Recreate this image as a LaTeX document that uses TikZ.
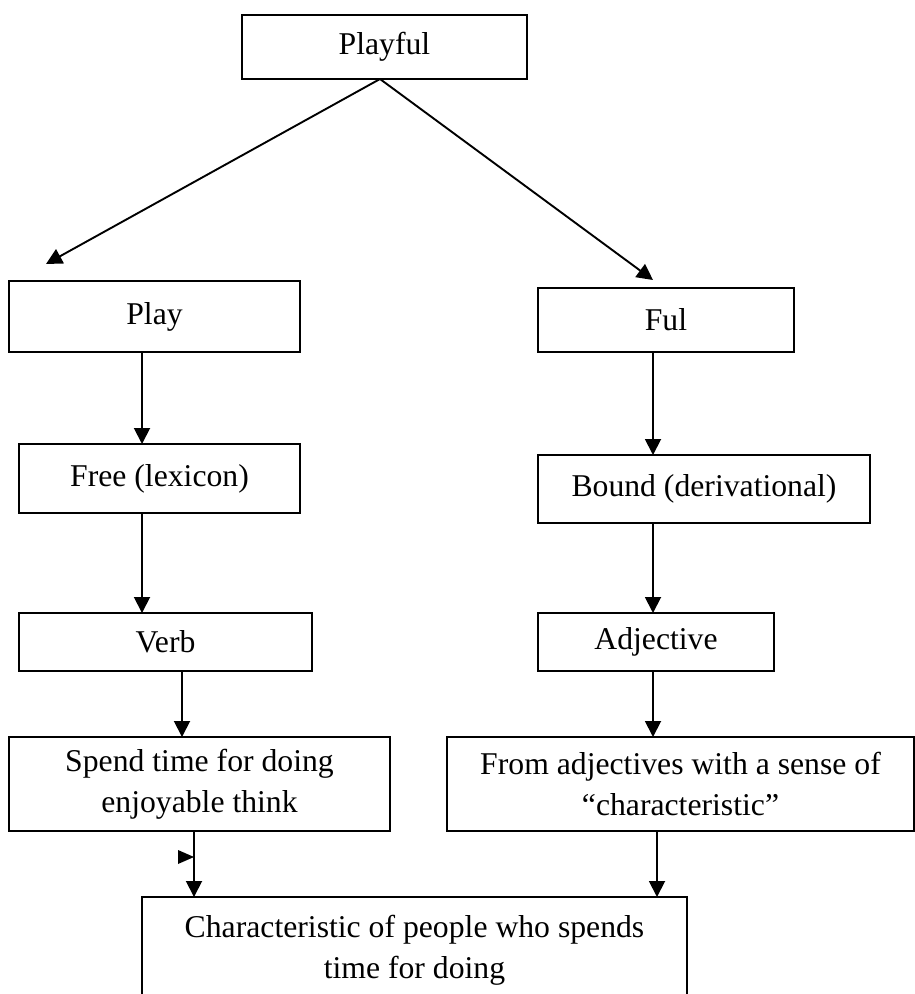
\documentclass[tikz,border=0pt]{standalone}
\usepackage{fontspec}
\setmainfont{Liberation Serif}
\usetikzlibrary{arrows.meta}
\begin{document}
\begin{tikzpicture}[x=1pt,y=-1pt,
  box/.style={draw=black, line width=1.9pt, inner sep=0pt, outer sep=0pt,
    align=center, font=\fontsize{31.7}{41}\selectfont},
  arr/.style={line width=1.9pt, -{Triangle[length=16pt,width=16pt]}}]
\useasboundingbox (0,0) rectangle (915,994);
% boxes
\node[box, minimum width=285pt, minimum height=64pt] (playful) at (384.5,47) {Playful};
\node[box, minimum width=291pt, minimum height=71pt] (play) at (154.5,316.5) {Play};
\node[box, minimum width=256pt, minimum height=64pt] (ful) at (666,320) {Ful};
\node[box, minimum width=281pt, minimum height=69pt] (free) at (159.5,478.5) {Free (lexicon)};
\node[box, minimum width=332pt, minimum height=68pt] (bound) at (704,489) {Bound (derivational)};
\node[box, minimum width=293pt, minimum height=58pt] (verb) at (165.5,642) {Verb};
\node[box, minimum width=236pt, minimum height=58pt] (adj) at (656,642) {Adjective};
\node[box, minimum width=381pt, minimum height=94pt] (spend) at (199.5,784) {Spend time for doing\\enjoyable think};
\node[box, minimum width=467pt, minimum height=94pt] (from) at (680.5,784) {From adjectives with a sense of\\``characteristic''};
\node[box, minimum width=545pt, minimum height=106pt] (char) at (414.5,950) {Characteristic of people who spends\\time for doing};
% column coordinates
\coordinate (apex) at (380,79);
\coordinate (ltip) at (46,264);
\coordinate (rtip) at (653,280);
\coordinate (cA) at (142,0);
\coordinate (cB) at (653,0);
\coordinate (cC) at (182,0);
\coordinate (cD) at (194,0);
\coordinate (cE) at (657,0);
% connectors
\draw[arr] (apex) -- (ltip);
\draw[arr] (apex) -- (rtip);
\draw[arr] (play.south -| cA) -- (free.north -| cA);
\draw[arr] (ful.south -| cB) -- (bound.north -| cB);
\draw[arr] (free.south -| cA) -- (verb.north -| cA);
\draw[arr] (bound.south -| cB) -- (adj.north -| cB);
\draw[arr] (verb.south -| cC) -- (spend.north -| cC);
\draw[arr] (adj.south -| cB) -- (from.north -| cB);
\draw[arr] (spend.south -| cD) -- (char.north -| cD);
\draw[arr] (from.south -| cE) -- (char.north -| cE);
% stray arrowhead
\fill (178,850) -- (194,857) -- (178,864) -- cycle;
\end{tikzpicture}
\end{document}
